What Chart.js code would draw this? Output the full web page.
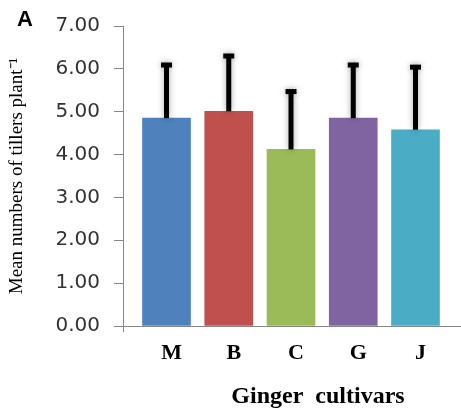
<!DOCTYPE html>
<html>
<head>
<meta charset="utf-8">
<script src="https://cdn.jsdelivr.net/npm/chart.js@4/dist/chart.umd.min.js"></script>
<style>
  html, body { margin: 0; padding: 0; background: #fff; }
  #wrap { width: 461px; height: 414px; position: relative; }
</style>
</head>
<body>
<div id="wrap"><canvas id="c" width="461" height="414"></canvas></div>
<script>
// Ginger cultivars and mean tiller counts per plant
const cultivars = ['M', 'B', 'C', 'G', 'J'];
const meanTillers = [4.85, 5.01, 4.12, 4.85, 4.58];
const sdTillers = [1.24, 1.29, 1.35, 1.24, 1.46];
const barColors = ['#4F81BD', '#C0504D', '#9BBB59', '#8064A2', '#4BACC6'];
const yTicks = [0, 1, 2, 3, 4, 5, 6, 7];

const AXIS = '#868686';

// Error bars (mean + SD) with a soft shadow, plus panel letter and x title
const extras = {
  id: 'extras',
  afterDatasetsDraw(chart) {
    const { ctx, scales: { x, y } } = chart;
    ctx.save();
    ctx.fillStyle = '#000';
    ctx.shadowColor = 'rgba(0,0,0,0.35)';
    ctx.shadowBlur = 6;
    meanTillers.forEach((m, i) => {
      const px = x.getPixelForValue(i + 1);
      const yTop = y.getPixelForValue(m);
      const yErr = y.getPixelForValue(m + sdTillers[i]);
      ctx.fillRect(px - 2.5, yErr, 5, yTop - yErr);
      ctx.fillRect(px - 5.5, yErr - 2.5, 11, 5);
    });
    ctx.restore();
  },
  afterDraw(chart) {
    const { ctx, chartArea, scales: { x } } = chart;
    ctx.save();
    // small tick below the origin
    ctx.strokeStyle = AXIS;
    ctx.lineWidth = 1;
    ctx.beginPath();
    ctx.moveTo(chartArea.left + 0.5, chartArea.bottom);
    ctx.lineTo(chartArea.left + 0.5, chartArea.bottom + 6);
    ctx.stroke();
    // panel letter
    ctx.fillStyle = '#000';
    ctx.font = 'bold 22px "Liberation Sans", Arial, sans-serif';
    ctx.textAlign = 'left';
    ctx.textBaseline = 'alphabetic';
    ctx.fillText('A', 17, 26);
    // x axis title
    ctx.font = 'bold 24px "Liberation Serif", "Times New Roman", serif';
    ctx.textAlign = 'center';
    ctx.fillText('Ginger  cultivars', x.getPixelForValue(3) + 27, 403);
    ctx.restore();
  }
};

new Chart(document.getElementById('c'), {
  type: 'bar',
  data: {
    datasets: [{
      data: cultivars.map((c, i) => ({ x: i + 1, y: meanTillers[i] })),
      backgroundColor: barColors,
      borderWidth: 0,
      barThickness: 48
    }]
  },
  options: {
    responsive: false,
    animation: false,
    events: [],
    layout: { padding: { top: 20, right: 0, bottom: 0, left: 0 } },
    plugins: { legend: { display: false }, tooltip: { enabled: false } },
    scales: {
      x: {
        type: 'linear',
        offset: false,
        min: 0.301,
        max: 5.731,
        afterBuildTicks: s => { s.ticks = cultivars.map((c, i) => ({ value: i + 1 })); },
        afterFit: s => { s.height = 88; },
        grid: { display: false, offset: false },
        border: { display: true, color: AXIS, width: 1 },
        ticks: {
          autoSkip: false,
          maxRotation: 0,
          padding: 6,
          labelOffset: 5,
          color: '#000',
          font: { family: '"Liberation Serif", "Times New Roman", serif', size: 22, weight: 'bold' },
          callback: v => cultivars[Math.round(v) - 1] || ''
        }
      },
      y: {
        min: 0,
        max: 7,
        afterBuildTicks: s => { s.ticks = yTicks.map(v => ({ value: v })); },
        afterFit: s => { s.width = 123; },
        grid: { display: true, drawOnChartArea: false, drawTicks: true, tickLength: 9, color: AXIS },
        border: { display: true, color: AXIS, width: 1 },
        ticks: {
          padding: 14,
          color: '#333',
          font: { family: '"DejaVu Sans", sans-serif', size: 20 },
          callback: v => Number(v).toFixed(2)
        },
        title: {
          display: true,
          text: 'Mean numbers of tillers plant\u207B\u00B9',
          color: '#000',
          padding: { top: 6, bottom: 0 },
          font: { family: '"Liberation Serif", "Times New Roman", serif', size: 19 }
        }
      }
    }
  },
  plugins: [extras]
});
</script>
</body>
</html>
